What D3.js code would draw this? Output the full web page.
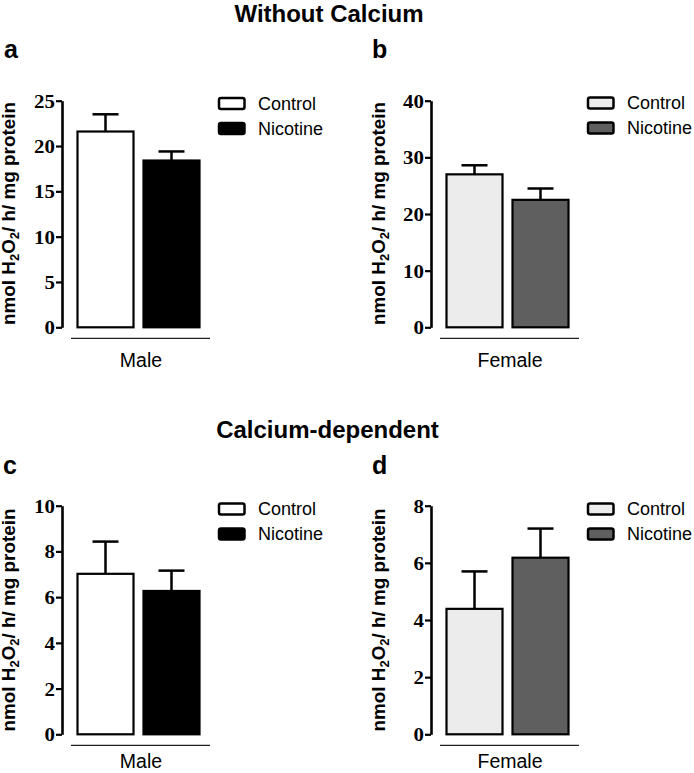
<!DOCTYPE html>
<html>
<head>
<meta charset="utf-8">
<script src="https://cdn.jsdelivr.net/npm/d3@7/dist/d3.min.js"></script>
<style>
  html, body { margin: 0; padding: 0; background: #ffffff; }
  svg { display: block; }
</style>
</head>
<body>
<script>
// ---------- Data ----------
const groups = ["Control", "Nicotine"];

const maleNoCa = [21.6, 18.4];
const maleNoCaSem = [1.9, 1.0];
const femaleNoCa = [27.0, 22.5];
const femaleNoCaSem = [1.6, 2.0];

const maleCa = [7.02, 6.27];
const maleCaSem = [1.41, 0.89];
const femaleCa = [4.39, 6.18];
const femaleCaSem = [1.31, 1.02];

const ticksA = [0, 5, 10, 15, 20, 25];
const ticksB = [0, 10, 20, 30, 40];
const ticksC = [0, 2, 4, 6, 8, 10];
const ticksD = [0, 2, 4, 6, 8];

const maleColors = ["#ffffff", "#000000"];
const femaleColors = ["#ececec", "#5f5f5f"];

const titles = ["Without Calcium", "Calcium-dependent"];
const panelLetters = ["a", "b", "c", "d"];
const sexLabels = ["Male", "Female"];

// ---------- Drawing ----------
const W = 694, H = 773;
const svg = d3.select("body").append("svg").attr("width", W).attr("height", H);

const SANS = "'Liberation Sans', Arial, Helvetica, sans-serif";
const SERIF = "'Liberation Serif', 'Times New Roman', serif";

// Section titles
svg.append("text").attr("x", 329).attr("y", 22)
  .attr("text-anchor", "middle").attr("font-family", SANS)
  .attr("font-weight", "bold").attr("font-size", 24).text(titles[0]);
svg.append("text").attr("x", 327.5).attr("y", 438)
  .attr("text-anchor", "middle").attr("font-family", SANS)
  .attr("font-weight", "bold").attr("font-size", 24).text(titles[1]);

function panel(o) {
  const g = svg.append("g");
  const y = d3.scaleLinear().domain([0, o.max]).range([o.yBot, o.yTop]);
  const x = d3.scaleBand().domain(groups)
    .range([o.ax + 14.5, o.ax + 138.5]).paddingInner(0.121).paddingOuter(0);
  const bw = x.bandwidth();

  // panel letter
  g.append("text").attr("x", o.lx).attr("y", o.ly)
    .attr("font-family", SANS).attr("font-weight", "bold")
    .attr("font-size", 25).text(o.letter);

  // error bars
  groups.forEach((gr, i) => {
    const cx = x(gr) + bw / 2;
    const top = y(o.vals[i] + o.sem[i]);
    g.append("line").attr("x1", cx).attr("x2", cx)
      .attr("y1", y(o.vals[i])).attr("y2", top)
      .attr("stroke", "#000").attr("stroke-width", 2.5);
    g.append("line").attr("x1", cx - 13).attr("x2", cx + 13)
      .attr("y1", top).attr("y2", top)
      .attr("stroke", "#000").attr("stroke-width", 2.5);
  });

  // bars
  g.selectAll("rect.bar").data(groups).enter().append("rect")
    .attr("class", "bar")
    .attr("x", d => x(d) + 1)
    .attr("width", bw - 2)
    .attr("y", (d, i) => y(o.vals[i]))
    .attr("height", (d, i) => o.yBot - y(o.vals[i]))
    .attr("fill", (d, i) => o.colors[i])
    .attr("stroke", "#000").attr("stroke-width", 2.2);

  // y axis
  const axG = g.append("g").attr("transform", `translate(${o.ax},0)`)
    .call(d3.axisLeft(y).tickValues(o.ticks).tickSize(6).tickSizeOuter(0).tickFormat(d3.format("d")));
  axG.select(".domain").attr("stroke", "#000").attr("stroke-width", 2.6);
  axG.selectAll(".tick line").attr("stroke", "#000").attr("stroke-width", 2.2);
  axG.selectAll(".tick text")
    .attr("x", 0).attr("dy", "0.34em")
    .attr("text-anchor", "end")
    .attr("transform", "translate(-7,0) scale(1.1,1)")
    .attr("font-family", SERIF).attr("font-weight", "bold")
    .attr("font-size", 19).attr("fill", "#000");

  // y axis label
  const lg = g.append("g").attr("transform", `translate(${o.labX},${o.labCY}) rotate(-90)`);
  const t = lg.append("text").attr("text-anchor", "middle")
    .attr("font-family", SANS).attr("font-weight", "bold").attr("font-size", 17.5)
    .attr("fill", "#000");
  t.append("tspan").text("nmol H");
  t.append("tspan").attr("dy", 4).attr("font-size", 12).text("2");
  t.append("tspan").attr("dy", -4).text("O");
  t.append("tspan").attr("dy", 4).attr("font-size", 12).text("2");
  t.append("tspan").attr("dy", -4).text("/ h/ mg protein");
  const w = t.node().getBBox().width;
  t.attr("transform", `scale(${223 / w},1)`);

  // category baseline and label
  g.append("line").attr("x1", o.ax + 9).attr("x2", o.ax + 148)
    .attr("y1", o.yBot + 11).attr("y2", o.yBot + 11)
    .attr("stroke", "#222").attr("stroke-width", 1.2);
  g.append("text").attr("x", o.ax + 79).attr("y", o.catY)
    .attr("text-anchor", "middle").attr("font-family", SANS)
    .attr("font-size", 19.5).attr("fill", "#000").text(o.cat);

  // legend
  groups.forEach((gr, i) => {
    const by = o.legY + i * 25;
    g.append("rect").attr("x", o.ax + 157).attr("y", by)
      .attr("width", 25.5).attr("height", 11).attr("rx", 2).attr("ry", 2)
      .attr("fill", o.colors[i]).attr("stroke", "#000").attr("stroke-width", 2.5);
    g.append("text").attr("x", o.ax + 196).attr("y", by + 11.5)
      .attr("font-family", SANS).attr("font-size", 18).attr("fill", "#000").text(gr);
  });
}

panel({ ax: 62, yTop: 100.7, yBot: 327.3, max: 25, ticks: ticksA,
  vals: maleNoCa, sem: maleNoCaSem, colors: maleColors, cat: sexLabels[0],
  letter: panelLetters[0], lx: 4, ly: 58, labX: 15, labCY: 213.5, catY: 366.5, legY: 98 });
panel({ ax: 431, yTop: 100.7, yBot: 327.3, max: 40, ticks: ticksB,
  vals: femaleNoCa, sem: femaleNoCaSem, colors: femaleColors, cat: sexLabels[1],
  letter: panelLetters[1], lx: 372, ly: 58, labX: 385, labCY: 213.5, catY: 366.5, legY: 97.5 });
panel({ ax: 62, yTop: 505.7, yBot: 734.3, max: 10, ticks: ticksC,
  vals: maleCa, sem: maleCaSem, colors: maleColors, cat: sexLabels[0],
  letter: panelLetters[2], lx: 3, ly: 474, labX: 15, labCY: 620, catY: 768, legY: 503.5 });
panel({ ax: 431, yTop: 505.7, yBot: 734.3, max: 8, ticks: ticksD,
  vals: femaleCa, sem: femaleCaSem, colors: femaleColors, cat: sexLabels[1],
  letter: panelLetters[3], lx: 372, ly: 474, labX: 385, labCY: 620, catY: 768, legY: 503.5 });
</script>
</body>
</html>
